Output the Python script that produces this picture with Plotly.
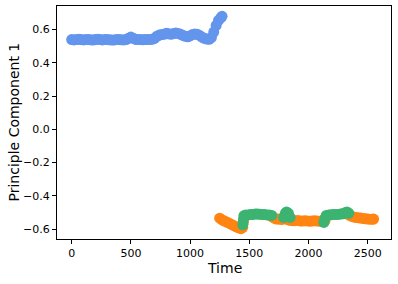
import plotly.graph_objects as go

# ---- data ----
blue_t = [0, 20, 40, 60, 80, 100, 120, 140, 160, 180, 200, 220, 240, 260, 280, 300,
          320, 340, 360, 380, 400, 420, 440, 460, 480, 500, 520, 540, 560, 580, 600,
          620, 640, 660, 680, 700, 720, 740, 760, 780, 800, 820, 840, 860, 880, 900,
          920, 940, 960, 980, 1000, 1020, 1040, 1060, 1080, 1100, 1120, 1140, 1160,
          1180, 1200, 1220, 1240, 1260, 1270]
blue_v = [0.540, 0.538, 0.540, 0.542, 0.540, 0.538, 0.540, 0.541, 0.539, 0.537, 0.540,
          0.542, 0.540, 0.538, 0.540, 0.541, 0.539, 0.537, 0.538, 0.540, 0.541, 0.539,
          0.538, 0.540, 0.548, 0.555, 0.548, 0.541, 0.540, 0.541, 0.539, 0.540, 0.541,
          0.540, 0.542, 0.548, 0.560, 0.567, 0.570, 0.572, 0.578, 0.575, 0.572, 0.576,
          0.580, 0.577, 0.572, 0.565, 0.560, 0.557, 0.562, 0.570, 0.574, 0.572, 0.565,
          0.555, 0.548, 0.543, 0.542, 0.552, 0.585, 0.625, 0.655, 0.672, 0.680]

orange_t = [1250, 1270, 1290, 1310, 1330, 1350, 1370, 1390, 1410, 1430, 1445, 1450, 1455,
            1690, 1710, 1730, 1750, 1770, 1790, 1810, 1830, 1850, 1870, 1890, 1910, 1930,
            1950, 1970, 1990, 2010, 2030, 2050, 2070, 2090, 2110, 2130, 2140,
            2340, 2360, 2380, 2400, 2420, 2440, 2460, 2480, 2500, 2520, 2540, 2550]
orange_v = [-0.535, -0.545, -0.552, -0.558, -0.565, -0.572, -0.580, -0.587, -0.593, -0.598,
            -0.590, -0.560, -0.530,
            -0.525, -0.535, -0.540, -0.540, -0.542, -0.540, -0.538, -0.545, -0.548, -0.550,
            -0.550, -0.549, -0.551, -0.552, -0.550, -0.551, -0.553, -0.552, -0.550, -0.551,
            -0.553, -0.552, -0.552, -0.548,
            -0.515, -0.522, -0.527, -0.530, -0.532, -0.534, -0.536, -0.538, -0.540, -0.541,
            -0.541, -0.540]

green_t = [1445, 1450, 1455, 1470, 1490, 1510, 1530, 1550, 1570, 1590, 1610, 1630, 1650,
           1670, 1690,
           1790, 1805, 1815, 1830, 1845,
           2130, 2140, 2150, 2170, 2190, 2210, 2230, 2250, 2270, 2290, 2310, 2325, 2340]
green_v = [-0.575, -0.545, -0.520, -0.515, -0.515, -0.513, -0.512, -0.510, -0.510, -0.511,
           -0.512, -0.513, -0.515, -0.516, -0.518,
           -0.530, -0.505, -0.497, -0.505, -0.530,
           -0.560, -0.535, -0.518, -0.515, -0.514, -0.513, -0.512, -0.512, -0.510, -0.508,
           -0.502, -0.497, -0.505]

x_ticks = [0, 500, 1000, 1500, 2000, 2500]
x_tick_labels = ["0", "500", "1000", "1500", "2000", "2500"]
y_ticks = [-0.6, -0.4, -0.2, 0.0, 0.2, 0.4, 0.6]
y_tick_labels = ["\u22120.6", "\u22120.4", "\u22120.2", "0.0", "0.2", "0.4", "0.6"]

MS = 11
fig = go.Figure()
fig.add_trace(go.Scatter(x=blue_t, y=blue_v, mode="markers",
                         marker=dict(color="#6495ED", size=MS, line=dict(width=0))))
fig.add_trace(go.Scatter(x=orange_t, y=orange_v, mode="markers",
                         marker=dict(color="#FF8412", size=MS, line=dict(width=0))))
fig.add_trace(go.Scatter(x=green_t, y=green_v, mode="markers",
                         marker=dict(color="#3CB371", size=MS, line=dict(width=0))))

axis_common = dict(showgrid=False, zeroline=False, showline=True, linecolor="black",
                   linewidth=1, mirror=True, ticks="outside", ticklen=4, tickcolor="black",
                   tickfont=dict(family="DejaVu Sans", size=11, color="black"))
fig.update_xaxes(range=[-124, 2697], tickvals=x_ticks, ticktext=x_tick_labels, **axis_common)
fig.update_yaxes(range=[-0.66, 0.742], tickvals=y_ticks, ticktext=y_tick_labels, **axis_common)

fig.update_layout(
    width=398, height=284,
    margin=dict(l=57, r=7, t=6, b=45),
    plot_bgcolor="white", paper_bgcolor="white",
    showlegend=False,
    font=dict(family="DejaVu Sans", color="black"),
    annotations=[
        dict(text="Time", xref="paper", yref="paper", x=0.5, y=-0.1245,
             xanchor="center", yanchor="middle", showarrow=False,
             font=dict(size=14, family="DejaVu Sans", color="black")),
        dict(text="Principle Component 1", xref="paper", yref="paper", x=-0.1317, y=0.5,
             xanchor="center", yanchor="middle", textangle=-90, showarrow=False,
             font=dict(size=14, family="DejaVu Sans", color="black")),
    ],
)

fig.write_html("out.html", config={"displayModeBar": False},
               post_script="document.body.style.margin='0';document.body.style.padding='0';")
